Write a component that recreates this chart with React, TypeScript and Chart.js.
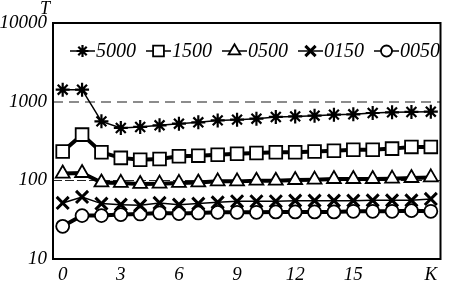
import React, { useEffect, useRef } from 'react';
import { Chart, registerables } from 'chart.js';
import { drawPoint } from 'chart.js/helpers';

Chart.register(...registerables);

const steps = [0, 1, 2, 3, 4, 5, 6, 7, 8, 9, 10, 11, 12, 13, 14, 15, 16, 17, 18, 19];
const xTickValues = [0, 3, 6, 9, 12, 15, 19];
const xTickLabels = ['0', '3', '6', '9', '12', '15', 'K'];
const yTickValues = [10, 100, 1000, 10000];
const yAxisTitle = 'T';
const seriesNames = ['5000', '1500', '0500', '0150', '0050'];

const s5000 = [1420, 1420, 562, 463, 477, 500, 525, 546, 578, 591, 608, 639, 650, 664, 684, 690, 718, 731, 740, 746];
const s1500 = [233, 381, 227, 193, 183, 187, 202, 206, 212, 218, 223, 227, 227, 233, 238, 245, 245, 253, 266, 266];
const s0500 = [122, 124, 94, 92.7, 90, 90.8, 92.7, 94, 97, 97, 99, 99, 101, 102, 104, 104, 104, 105, 107, 109];
const s0150 = [51.6, 61.5, 50.6, 49.1, 48.1, 51.6, 49.1, 50.6, 52.5, 54.1, 54.1, 54.1, 55.2, 55.2, 55.2, 55.2, 55.7, 55.7, 55.7, 58];
const s0050 = [26, 35.6, 35.6, 36.7, 37.4, 38.5, 37.8, 38.5, 39.2, 39.2, 39.2, 39.7, 39.7, 39.7, 39.7, 40.4, 40.4, 40.4, 41.2, 40.4];

const FONT_FAMILY = '"Liberation Serif", "Times New Roman", serif';

const framePlugin = {
  id: 'frame',
  beforeDatasetsDraw(chart: any) {
    const { ctx, chartArea } = chart;
    ctx.save();
    ctx.strokeStyle = '#000';
    ctx.lineWidth = 2;
    ctx.strokeRect(chartArea.left, chartArea.top, chartArea.right - chartArea.left, chartArea.bottom - chartArea.top);
    ctx.restore();
  },
  afterDraw(chart: any) {
    const { ctx, chartArea } = chart;
    ctx.save();
    ctx.fillStyle = '#000';
    ctx.font = 'italic 18px ' + FONT_FAMILY;
    ctx.textAlign = 'center';
    ctx.textBaseline = 'middle';
    ctx.fillText(yAxisTitle, chartArea.left - 8, 9);
    ctx.restore();
  },
};

const legendPlugin = {
  id: 'customLegend',
  afterDraw(chart: any) {
    const { ctx, chartArea } = chart;
    ctx.save();
    ctx.font = 'italic 20px ' + FONT_FAMILY;
    ctx.textBaseline = 'middle';
    ctx.textAlign = 'left';
    let x = chartArea.left + 17;
    const y = 51;
    const segLen = 25;
    chart.data.datasets.forEach((ds: any) => {
      ctx.strokeStyle = '#000';
      ctx.lineWidth = 1.5;
      ctx.beginPath();
      ctx.moveTo(x, y);
      ctx.lineTo(x + segLen, y);
      ctx.stroke();
      ctx.fillStyle = ds.pointBackgroundColor;
      ctx.strokeStyle = ds.pointBorderColor;
      ctx.lineWidth = ds.pointBorderWidth;
      drawPoint(ctx, { pointStyle: ds.pointStyle, rotation: 0, radius: ds.pointRadius * 0.85, borderWidth: ds.pointBorderWidth }, x + segLen / 2, y);
      ctx.fillStyle = '#000';
      ctx.fillText(ds.label, x + segLen + 1, y + 1);
      const w = ctx.measureText(ds.label).width;
      x += segLen + 1 + w + 10;
    });
    ctx.restore();
  },
};

export default function App() {
  const canvasRef = useRef<HTMLCanvasElement | null>(null);

  useEffect(() => {
    document.body.style.margin = '0';
    const canvas = canvasRef.current;
    if (!canvas) return;
    const mk = (label: string, data: number[], style: string, radius: number, lineWidth: number, fill: string, bw: number) => ({
      label,
      data,
      pointStyle: style,
      pointRadius: radius,
      pointHoverRadius: radius,
      borderColor: '#000',
      borderWidth: lineWidth,
      pointBackgroundColor: fill,
      pointBorderColor: '#000',
      pointBorderWidth: bw,
      tension: 0,
      fill: false,
    });
    const chart = new Chart(canvas, {
      type: 'line',
      data: {
        labels: steps,
        datasets: [
          mk(seriesNames[0], s5000, 'star', 7, 1.5, '#000', 2.2),
          mk(seriesNames[1], s1500, 'rect', 9, 4, '#fff', 1.8),
          mk(seriesNames[2], s0500, 'triangle', 8, 4, '#fff', 1.8),
          mk(seriesNames[3], s0150, 'crossRot', 8.5, 1.5, '#000', 3),
          mk(seriesNames[4], s0050, 'circle', 6.5, 4, '#fff', 1.8),
        ],
      },
      options: {
        responsive: false,
        animation: false,
        devicePixelRatio: 1,
        layout: { padding: { top: 23, right: 3, left: 0, bottom: 0 } },
        plugins: {
          legend: { display: false },
          tooltip: { enabled: false },
          title: { display: false },
        },
        scales: {
          x: {
            type: 'linear',
            min: -0.5,
            max: 19.5,
            afterBuildTicks: (s: any) => {
              s.ticks = xTickValues.map((v) => ({ value: v }));
            },
            afterFit: (s: any) => {
              s.height = 22;
            },
            ticks: {
              autoSkip: false,
              maxRotation: 0,
              padding: 5,
              color: '#000',
              font: { family: FONT_FAMILY, size: 19, style: 'italic' },
              callback: (v: any) => {
                const i = xTickValues.indexOf(Number(v));
                return i >= 0 ? xTickLabels[i] : '';
              },
            },
            grid: { display: false, drawTicks: false },
            border: { display: false },
          },
          y: {
            type: 'logarithmic',
            min: 10,
            max: 10000,
            afterBuildTicks: (s: any) => {
              s.ticks = yTickValues.map((v) => ({ value: v }));
            },
            afterFit: (s: any) => {
              s.width = 53;
            },
            ticks: {
              padding: 6,
              color: '#000',
              font: { family: FONT_FAMILY, size: 19, style: 'italic' },
              callback: (v: any) => String(v),
            },
            grid: {
              drawTicks: false,
              color: (c: any) =>
                c.tick && c.tick.value === 1000 ? '#8c8c8c' : c.tick && c.tick.value === 100 ? '#222' : 'rgba(0,0,0,0)',
              lineWidth: (c: any) => (c.tick && c.tick.value === 1000 ? 2 : 1),
            },
            border: {
              display: false,
              dash: (c: any) => (c.tick && c.tick.value === 1000 ? [10, 6] : [9, 3]),
            },
          },
        },
      } as any,
      plugins: [framePlugin, legendPlugin],
    } as any);
    return () => chart.destroy();
  }, []);

  return (
    <div style={{ position: 'fixed', left: 0, top: 0, width: 452, height: 281, background: '#fff' }}>
      <canvas ref={canvasRef} width={452} height={281} style={{ display: 'block' }} />
    </div>
  );
}
